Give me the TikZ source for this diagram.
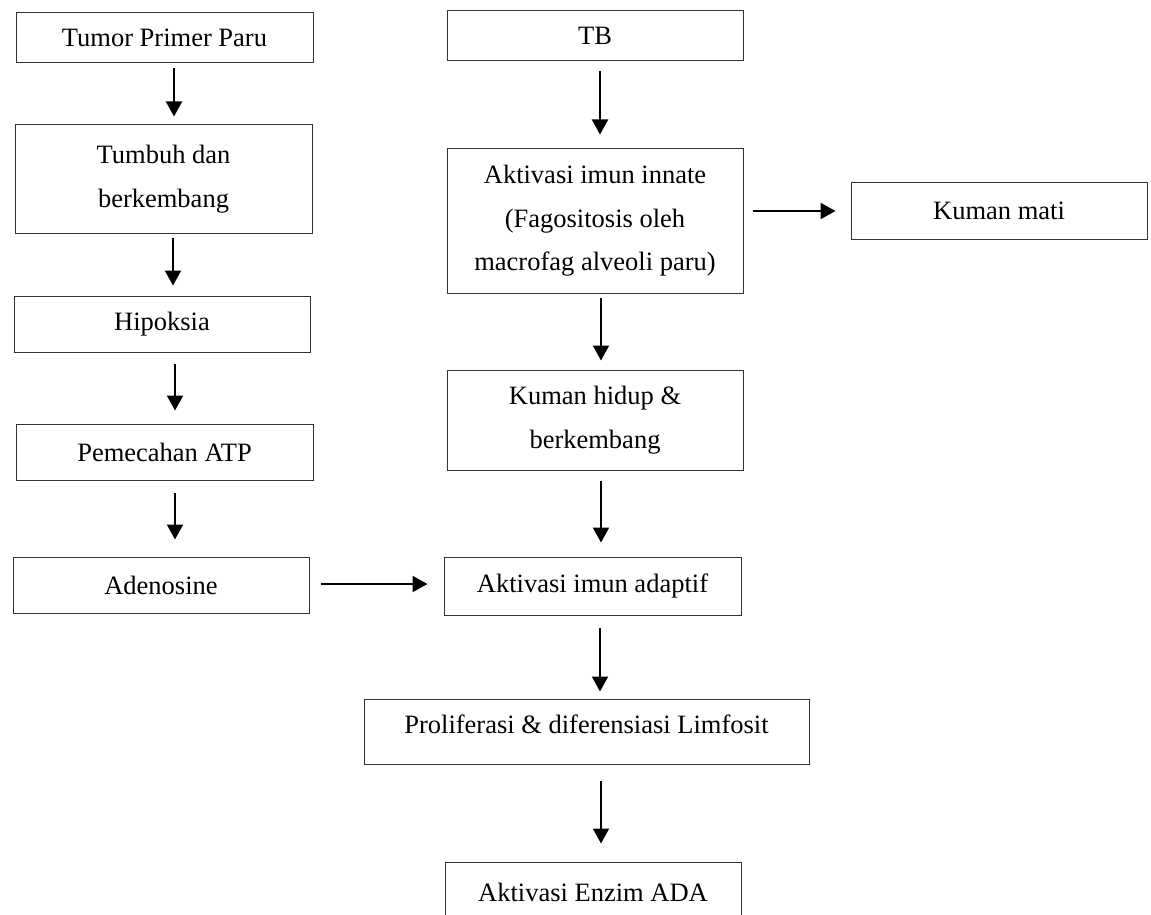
\documentclass[tikz,border=0pt]{standalone}
\usepackage{fontspec}
\setmainfont{Liberation Serif}
\usetikzlibrary{arrows.meta}
\tikzset{
  box/.style={draw=black!80, line width=1pt, inner sep=0pt, align=center,
    font=\fontsize{26.5}{43.5}\selectfont},
  arr/.style={draw=black, line width=2pt, -{Triangle[length=15pt,width=16pt]}}
}
\begin{document}
\begin{tikzpicture}[x=1pt,y=1pt]
\useasboundingbox (0,0) rectangle (1151,-915);
\clip (0,0) rectangle (1151,-915);
% left column
\node[box, minimum width=297pt, minimum height=50pt] (tumor) at (164.5,-38) {Tumor Primer Paru};
\node[box, minimum width=297pt, minimum height=108pt] (tumbuh) at (163.5,-179) {Tumbuh dan\\berkembang};
\node[box, minimum width=296pt, minimum height=56pt] (hipoksia) at (162,-324) {Hipoksia};
\node[box, minimum width=297pt, minimum height=56pt] (atp) at (164.5,-452) {Pemecahan ATP};
\node[box, minimum width=296pt, minimum height=56pt] (adeno) at (161,-585) {Adenosine};
% right column
\node[box, minimum width=296pt, minimum height=50pt] (tb) at (595,-36) {TB};
\node[box, minimum width=296pt, minimum height=144pt] (innate) at (595,-221) {Aktivasi imun innate\\(Fagositosis oleh\\macrofag alveoli paru)};
\node[box, minimum width=296pt, minimum height=57pt] (mati) at (999,-210.5) {Kuman mati};
\node[box, minimum width=296pt, minimum height=100pt] (hidup) at (595,-420) {Kuman hidup \&\\berkembang};
\node[box, minimum width=297pt, minimum height=58pt] (adaptif) at (592.5,-586) {Aktivasi imun adaptif};
\node[box, minimum width=445pt, minimum height=65pt, text depth=15pt] (prolif) at (586.5,-731.5) {Proliferasi \& diferensiasi Limfosit};
\node[box, minimum width=296pt, minimum height=60pt] (ada) at (593,-892) {Aktivasi Enzim ADA};
% arrows
\draw[arr] ([shift={(9.5,-5)}]tumor.south) -- ([shift={(10.5,8)}]tumbuh.north);
\draw[arr] ([shift={(9.5,-4)}]tumbuh.south) -- ([shift={(11,10)}]hipoksia.north);
\draw[arr] ([shift={(13,-11)}]hipoksia.south) -- ([shift={(10.5,13)}]atp.north);
\draw[arr] ([shift={(10.5,-12)}]atp.south) -- ([shift={(14,17)}]adeno.north);
\draw[arr] ([shift={(5,-10)}]tb.south) -- ([shift={(5,14)}]innate.north);
\draw[arr] ([shift={(6,-4)}]innate.south) -- ([shift={(6,9)}]hidup.north);
\draw[arr] ([shift={(6,-10)}]hidup.south) -- ([shift={(8.5,14)}]adaptif.north);
\draw[arr] ([shift={(7.5,-12)}]adaptif.south) -- ([shift={(13.5,7)}]prolif.north);
\draw[arr] ([shift={(14.5,-16)}]prolif.south) -- ([shift={(8,18)}]ada.north);
\draw[arr] ([shift={(9,10)}]innate.east) -- ([shift={(-15,-0.5)}]mati.west);
\draw[arr] ([shift={(11,1)}]adeno.east) -- ([shift={(-16,2)}]adaptif.west);
\end{tikzpicture}
\end{document}
